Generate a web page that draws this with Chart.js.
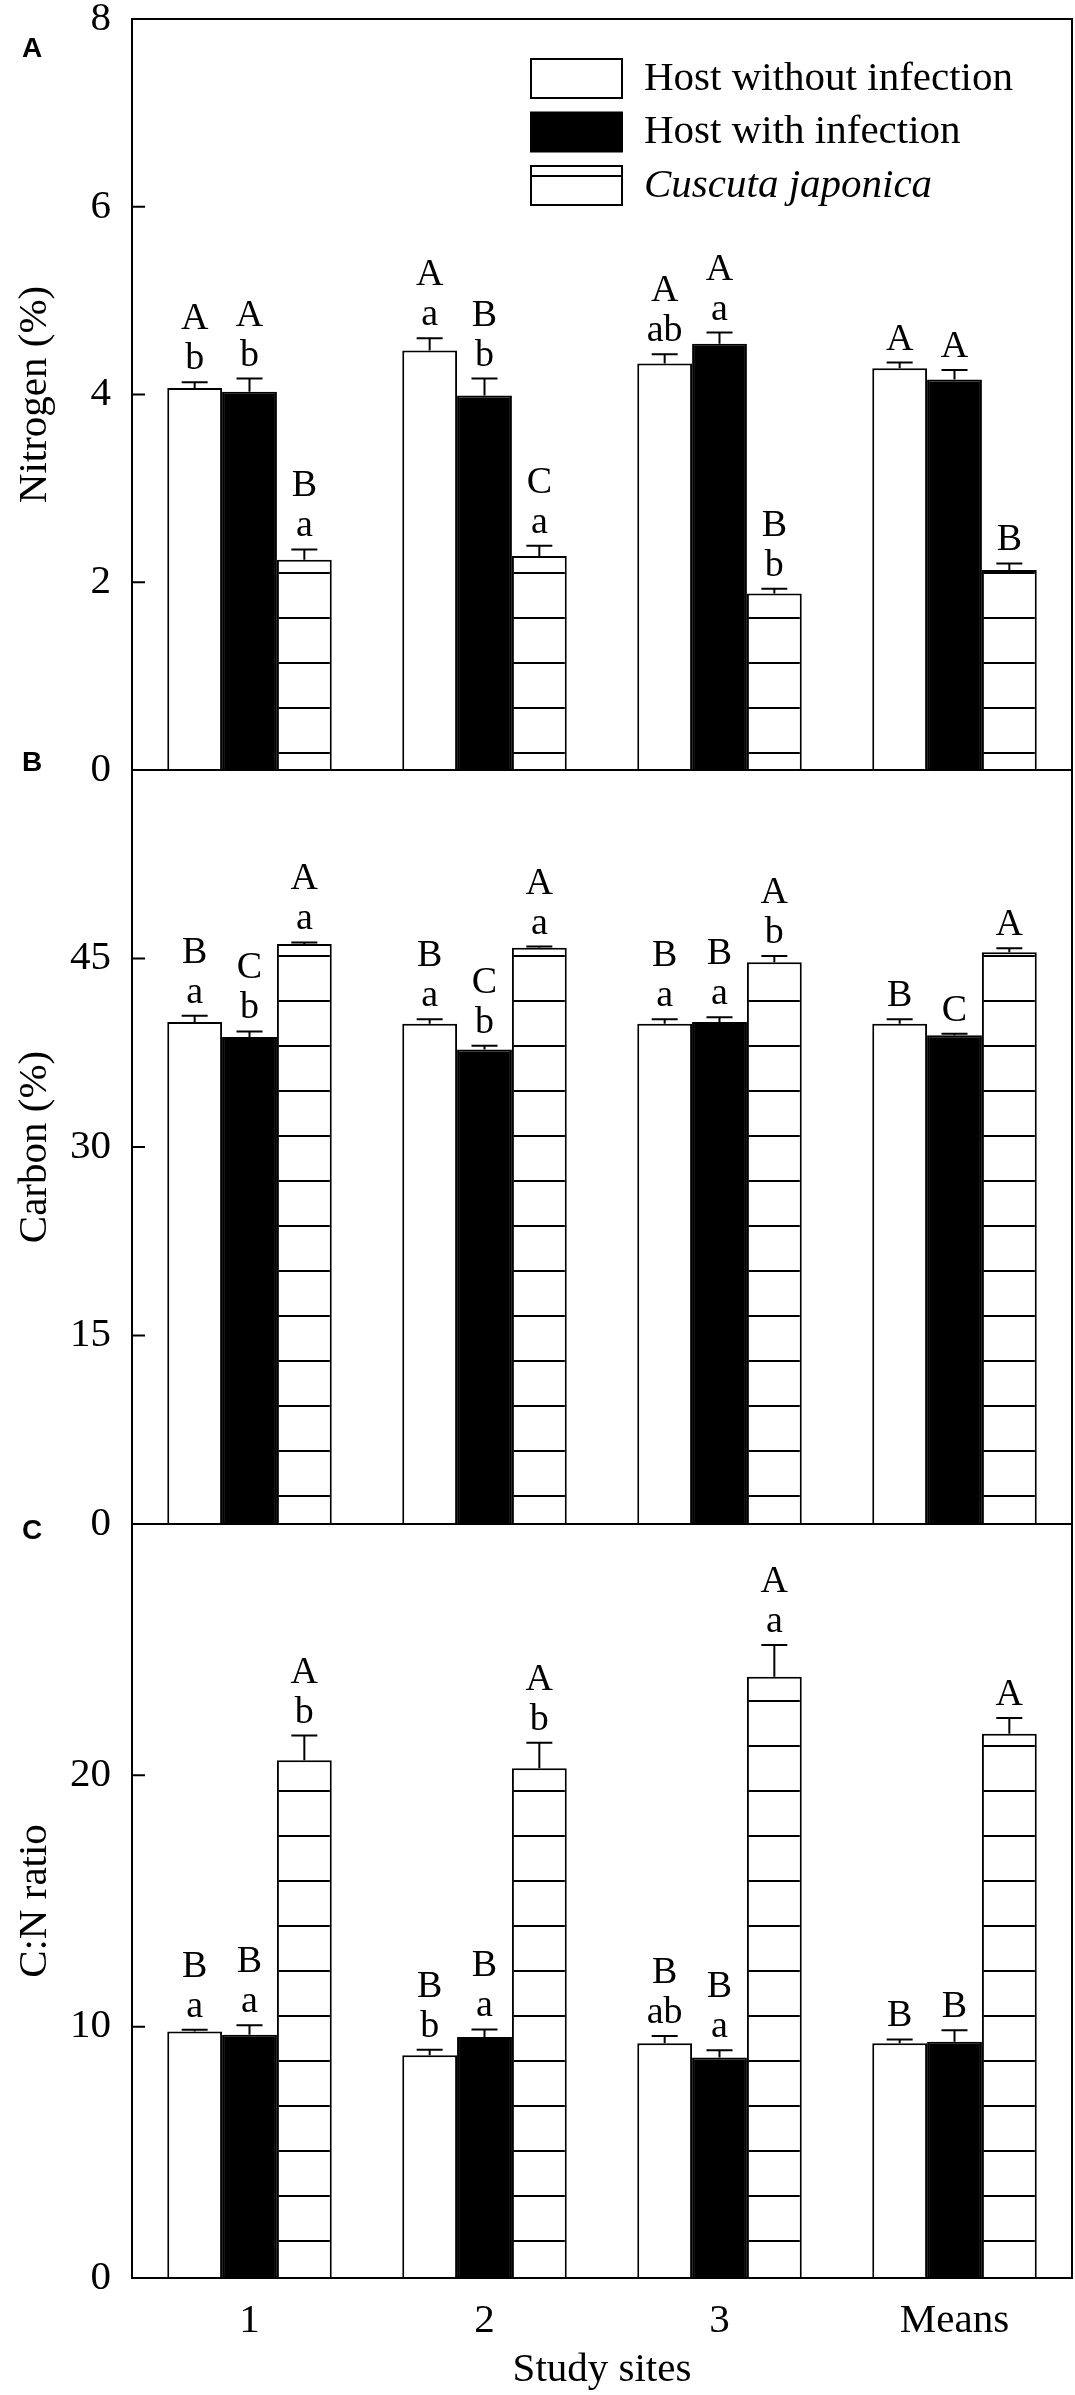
<!DOCTYPE html>
<html>
<head>
<meta charset="utf-8">
<script src="https://cdn.jsdelivr.net/npm/chart.js@4.4.1/dist/chart.umd.min.js"></script>
<style>
  body { margin: 0; background: #fff; }
  #page { position: relative; width: 1075px; height: 2395px; overflow: hidden; }
  #page canvas { position: absolute; left: 0; }
</style>
</head>
<body>
<div id="page">
  <canvas id="nitrogenChart" width="1075" height="871" style="top:-41px"></canvas>
  <canvas id="carbonChart" width="1075" height="874" style="top:710px"></canvas>
  <canvas id="ratioChart" width="1075" height="931" style="top:1464px"></canvas>
</div>
<script>
var sites = ['1', '2', '3', 'Means'];
var seriesNames = ['Host without infection', 'Host with infection', 'Cuscuta japonica'];

// nitrogen (%)
var nitrogenWithout = [4.07, 4.47, 4.33, 4.28];
var nitrogenWith = [4.03, 3.99, 4.54, 4.16];
var nitrogenCuscuta = [2.24, 2.28, 1.88, 2.13];
var nitrogenErr = [[0.06, 0.13, 0.10, 0.06], [0.14, 0.18, 0.12, 0.10], [0.11, 0.11, 0.05, 0.07]];
var nitrogenLetters = [['A b', 'A a', 'A ab', 'A'], ['A b', 'B b', 'A a', 'A'], ['B a', 'C a', 'B b', 'B']];
var nitrogenTicks = [0, 2, 4, 6, 8];

// carbon (%)
var carbonWithout = [39.95, 39.8, 39.8, 39.8];
var carbonWith = [38.75, 37.75, 39.95, 38.9];
var carbonCuscuta = [46.15, 45.85, 44.7, 45.5];
var carbonErr = [[0.5, 0.36, 0.36, 0.36], [0.45, 0.3, 0.37, 0.12], [0.13, 0.1, 0.5, 0.32]];
var carbonLetters = [['B a', 'B a', 'B a', 'B'], ['C b', 'C b', 'B a', 'C'], ['A a', 'A a', 'A b', 'A']];
var carbonTicks = [0, 15, 30, 45];

// C:N ratio
var ratioWithout = [9.81, 8.86, 9.34, 9.34];
var ratioWith = [9.68, 9.59, 8.77, 9.4];
var ratioCuscuta = [20.6, 20.28, 23.92, 21.65];
var ratioErr = [[0.07, 0.22, 0.29, 0.15], [0.38, 0.3, 0.29, 0.46], [0.98, 1.02, 1.27, 0.63]];
var ratioLetters = [['B a', 'B b', 'B ab', 'B'], ['B a', 'B a', 'B a', 'B'], ['A b', 'A b', 'A a', 'A']];
var ratioTicks = [0, 10, 20];

var serif = '"Liberation Serif", "Times New Roman", serif';
Chart.defaults.font.family = serif;
Chart.defaults.font.size = 41;
Chart.defaults.color = '#000';

var makeHatch = function (ctx) {
    var tile = document.createElement('canvas');
    tile.width = 10;
    tile.height = 45;
    var t = tile.getContext('2d');
    t.fillStyle = '#fff';
    t.fillRect(0, 0, 10, 45);
    t.fillStyle = '#000';
    t.fillRect(0, 0, 10, 2);
    return ctx.createPattern(tile, 'repeat');
};

// anchor the hatch lines to the panel baseline
var hatchPlugin = {
    id: 'hatch',
    beforeDatasetsDraw: function (chart, args, opts) {
        var pattern = chart.data.datasets[2].backgroundColor;
        var y0 = chart.chartArea.bottom - opts.offset - 1;
        pattern.setTransform(new DOMMatrix([1, 0, 0, 1, 0, y0]));
    }
};

var errorBarPlugin = {
    id: 'errorBars',
    afterDatasetsDraw: function (chart, args, opts) {
        var ctx = chart.ctx;
        var yScale = chart.scales.y;
        ctx.save();
        ctx.strokeStyle = '#000';
        ctx.lineWidth = 2;
        ctx.fillStyle = '#000';
        ctx.textAlign = 'center';
        ctx.textBaseline = 'alphabetic';
        ctx.font = '38px ' + serif;
        chart.data.datasets.forEach(function (ds, i) {
            chart.getDatasetMeta(i).data.forEach(function (bar, j) {
                var top = yScale.getPixelForValue(ds.data[j] + opts.errors[i][j]);
                ctx.beginPath();
                ctx.moveTo(bar.x, bar.y);
                ctx.lineTo(bar.x, top);
                ctx.moveTo(bar.x - 13, top);
                ctx.lineTo(bar.x + 13, top);
                ctx.stroke();
                var lines = opts.letters[i][j].split(' ');
                var base = top - 13;
                for (var k = lines.length - 1; k >= 0; k--) {
                    ctx.fillText(lines[k], bar.x, base);
                    base -= 40;
                }
            });
        });
        ctx.restore();
    }
};

var framePlugin = {
    id: 'frame',
    afterDraw: function (chart, args, opts) {
        var a = chart.chartArea;
        var ctx = chart.ctx;
        var y = chart.scales.y;
        ctx.save();
        ctx.strokeStyle = '#000';
        ctx.lineWidth = 2;
        ctx.strokeRect(a.left, a.top, a.right - a.left, a.bottom - a.top);
        ctx.beginPath();
        y.ticks.forEach(function (t) {
            var py = y.getPixelForValue(t.value);
            ctx.moveTo(a.left, py);
            ctx.lineTo(a.left + 13, py);
        });
        ctx.stroke();
        ctx.fillStyle = '#000';
        ctx.font = 'bold 28px "Liberation Sans", Arial, sans-serif';
        ctx.textAlign = 'center';
        ctx.textBaseline = 'middle';
        ctx.fillText(opts.letter, 32, a.top + opts.letterDy);
        ctx.restore();
    }
};

var legendPlugin = {
    id: 'boxLegend',
    afterDraw: function (chart, args, opts) {
        if (!opts.show) return;
        var a = chart.chartArea;
        var ctx = chart.ctx;
        ctx.save();
        ctx.lineWidth = 2;
        ctx.strokeStyle = '#000';
        chart.data.datasets.forEach(function (ds, i) {
            var x = a.left + 399;
            var y = a.top + 40 + i * 53.5;
            ctx.fillStyle = i === 1 ? '#000' : '#fff';
            ctx.fillRect(x, y, 91, 39);
            ctx.strokeRect(x, y, 91, 39);
            if (i === 2) {
                ctx.beginPath();
                ctx.moveTo(x, y + 10);
                ctx.lineTo(x + 91, y + 10);
                ctx.stroke();
            }
            ctx.fillStyle = '#000';
            ctx.font = (i === 2 ? 'italic ' : '') + '41px ' + serif;
            ctx.textAlign = 'left';
            ctx.textBaseline = 'middle';
            ctx.fillText(ds.label, a.left + 512, y + 20);
        });
        ctx.restore();
    }
};

var buildPanel = function (canvasId, p) {
    var ctx = document.getElementById(canvasId).getContext('2d');
    return new Chart(ctx, {
        type: 'bar',
        data: {
            labels: sites,
            datasets: [
                { label: seriesNames[0], data: p.values[0], backgroundColor: '#fff', borderColor: '#000', borderWidth: 2 },
                { label: seriesNames[1], data: p.values[1], backgroundColor: '#000', borderColor: '#000', borderWidth: 2 },
                { label: seriesNames[2], data: p.values[2], backgroundColor: makeHatch(ctx), borderColor: '#000', borderWidth: 2 }
            ]
        },
        options: {
            responsive: false,
            animation: false,
            devicePixelRatio: 1,
            layout: { padding: { top: 60, right: 3, bottom: p.showX ? 0 : 60, left: 0 } },
            datasets: { bar: { barPercentage: 1, categoryPercentage: 0.7 } },
            scales: {
                x: {
                    display: p.showX,
                    offset: true,
                    grid: { display: false, drawTicks: false },
                    border: { display: false },
                    ticks: { padding: 19 },
                    title: { display: true, text: 'Study sites', padding: { top: 0, bottom: 0 } },
                    afterFit: function (scale) { scale.height = p.showX ? 117 : 0; }
                },
                y: {
                    min: 0,
                    max: p.max,
                    afterBuildTicks: function (scale) {
                        scale.ticks = p.ticks.map(function (v) { return { value: v }; });
                    },
                    afterFit: function (scale) { scale.width = 132; },
                    grid: { display: false, drawTicks: false },
                    border: { display: false },
                    ticks: { padding: 21 },
                    title: { display: true, text: p.title, padding: { top: 11, bottom: 0 } }
                }
            },
            plugins: {
                legend: { display: false },
                tooltip: { enabled: false },
                hatch: { offset: p.hatchOffset },
                errorBars: { errors: p.errors, letters: p.letters },
                frame: { letter: p.letter, letterDy: p.letterDy },
                boxLegend: { show: p.legend }
            }
        },
        plugins: [hatchPlugin, errorBarPlugin, framePlugin, legendPlugin]
    });
};

buildPanel('nitrogenChart', {
    values: [nitrogenWithout, nitrogenWith, nitrogenCuscuta],
    errors: nitrogenErr, letters: nitrogenLetters, ticks: nitrogenTicks,
    max: 8, title: 'Nitrogen (%)', letter: 'A', letterDy: 30,
    hatchOffset: 17, legend: true, showX: false
});
buildPanel('carbonChart', {
    values: [carbonWithout, carbonWith, carbonCuscuta],
    errors: carbonErr, letters: carbonLetters, ticks: carbonTicks,
    max: 60, title: 'Carbon (%)', letter: 'B', letterDy: -7,
    hatchOffset: 28, legend: false, showX: false
});
buildPanel('ratioChart', {
    values: [ratioWithout, ratioWith, ratioCuscuta],
    errors: ratioErr, letters: ratioLetters, ticks: ratioTicks,
    max: 30, title: 'C:N ratio', letter: 'C', letterDy: 7,
    hatchOffset: 37, legend: false, showX: true
});
</script>
</body>
</html>
